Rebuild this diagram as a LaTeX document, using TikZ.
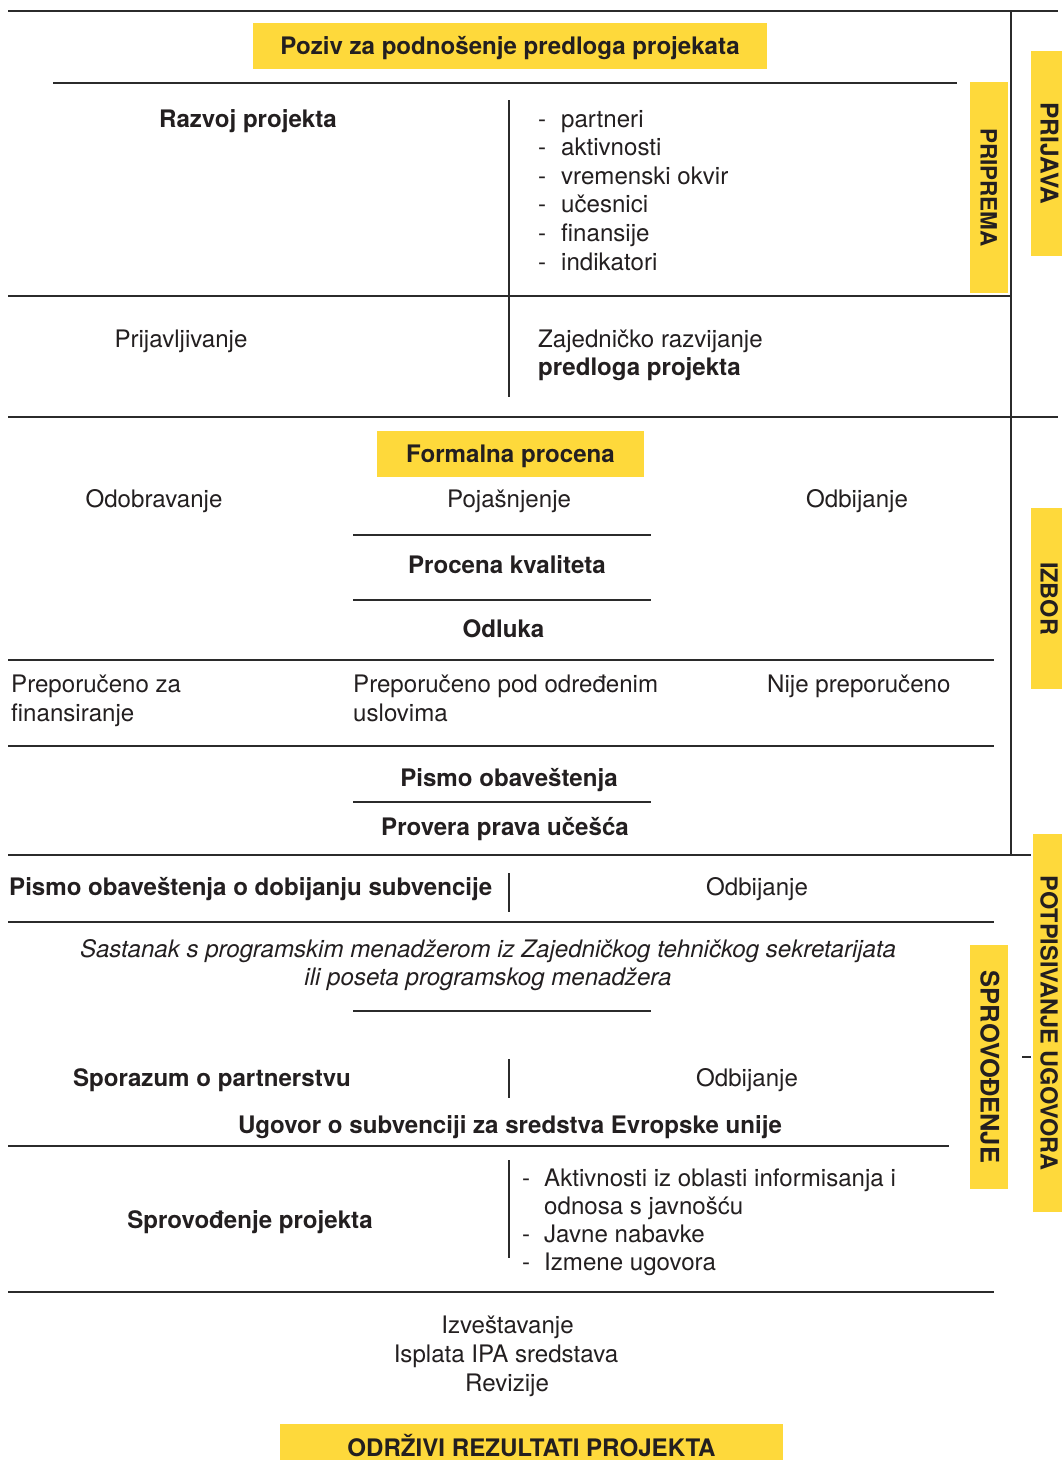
\documentclass[tikz,border=0pt]{standalone}
\usepackage{fontspec}
\setmainfont{TeX Gyre Heros}
\definecolor{ybar}{RGB}{254,217,59}
\definecolor{lineclr}{RGB}{43,43,43}
\definecolor{txtclr}{RGB}{35,31,32}
\begin{document}
\begin{tikzpicture}[x=1pt,y=-1pt,
  sep/.style={draw=lineclr, line width=2.4pt},
  txtc/.style={inner sep=0pt, anchor=base, text=txtclr, font=\fontsize{24.1}{28}\selectfont},
  txtl/.style={txtc, anchor=base west},
  bldc/.style={txtc, font=\fontsize{24.1}{28}\selectfont\bfseries},
  bldl/.style={bldc, anchor=base west},
  itc/.style={txtc, font=\fontsize{24.1}{28}\selectfont\itshape},
  ybox/.style={fill=ybar, inner sep=0pt, text=txtclr, text height=17pt, text depth=0pt, font=\fontsize{24.1}{28}\selectfont\bfseries},
  vbar/.style={ybox, rotate=-90}
]
\useasboundingbox (0,0) rectangle (1062,1460);
\fill[white] (0,0) rectangle (1062,1460);

% separator lines
\draw[sep] (8,11) -- (1058,11);
\draw[sep] (1011,11) -- (1011,855);
\draw[sep] (53,83) -- (957,83);
\draw[sep] (8,296) -- (1011,296);
\draw[sep] (509,100) -- (509,397);
\draw[sep] (8,417) -- (1058,417);
\draw[sep] (353,535) -- (651,535);
\draw[sep] (353,600) -- (651,600);
\draw[sep] (8,660) -- (994,660);
\draw[sep] (8,746) -- (994,746);
\draw[sep] (353,802) -- (651,802);
\draw[sep] (8,855) -- (1031,855);
\draw[sep] (509,873) -- (509,912);
\draw[sep] (8,922) -- (994,922);
\draw[sep] (353,1011) -- (651,1011);
\draw[sep] (509,1059) -- (509,1098);
\draw[sep] (8,1146) -- (949,1146);
\draw[sep] (509,1160) -- (509,1258);
\draw[sep] (8,1292) -- (994,1292);
\draw[sep] (1022,1057) -- (1031,1057);

% yellow boxes
\node[ybox, minimum width=514pt, minimum height=46pt] (poziv) at (510,46) {Poziv za podnošenje predloga projekata};
\node[ybox, minimum width=267pt, minimum height=46pt] (formalna) at (510.5,454) {Formalna procena};
\node[ybox, minimum width=503pt, minimum height=36pt, text height=28pt] (odrzivi) at (531.5,1442) {ODRŽIVI REZULTATI PROJEKTA};

\node[vbar, minimum width=211pt, minimum height=38pt, font=\fontsize{22.5}{27}\selectfont\bfseries] (priprema) at (989,187.5) {PRIPREMA};
\node[vbar, minimum width=205pt, minimum height=36pt, font=\fontsize{24.5}{29}\selectfont\bfseries] (prijava) at (1049,153.5) {PRIJAVA};
\node[vbar, minimum width=181pt, minimum height=36pt, font=\fontsize{23.5}{28}\selectfont\bfseries] (izbor) at (1049,598.5) {IZBOR};
\node[vbar, minimum width=378pt, minimum height=32pt, font=\fontsize{23.5}{28}\selectfont\bfseries] (potpis) at (1049,1023) {POTPISIVANJE UGOVORA};
\node[vbar, minimum width=244pt, minimum height=38pt, font=\fontsize{25.5}{30}\selectfont\bfseries] (sprovodj) at (989,1067) {SPROVOĐENJE};

% Prijava section
\node[bldc] (razvoj) at (248,127) {Razvoj projekta};
\node[txtl] (l1) at (538,127) {\makebox[23pt][l]{-}partneri};
\node[txtl] (l2) at (538,155.6) {\makebox[23pt][l]{-}aktivnosti};
\node[txtl] (l3) at (538,184.2) {\makebox[23pt][l]{-}vremenski okvir};
\node[txtl] (l4) at (538,212.8) {\makebox[23pt][l]{-}učesnici};
\node[txtl] (l5) at (538,241.4) {\makebox[23pt][l]{-}finansije};
\node[txtl] (l6) at (538,270) {\makebox[23pt][l]{-}indikatori};
\node[txtc] (prijavlj) at (181,347) {Prijavljivanje};
\node[txtl] (zajed) at (538,347) {Zajedničko razvijanje};
\node[bldl] (predloga) at (538,375) {predloga projekta};

% Izbor section
\node[txtc] (odobr) at (154,507) {Odobravanje};
\node[txtc] (pojas) at (509,507) {Pojašnjenje};
\node[txtc] (odbij1) at (857,507) {Odbijanje};
\node[bldc] (kvalitet) at (507,573) {Procena kvaliteta};
\node[bldc] (odluka) at (503.5,637) {Odluka};
\node[txtl] (prep1a) at (11,692) {Preporučeno za};
\node[txtl] (prep1b) at (11,721) {finansiranje};
\node[txtl] (prep2a) at (353,692) {Preporučeno pod određenim};
\node[txtl] (prep2b) at (353,721) {uslovima};
\node[txtl] (nije) at (767,692) {Nije preporučeno};
\node[bldc] (pismo) at (509,786) {Pismo obaveštenja};
\node[bldc] (provera) at (505,835) {Provera prava učešća};

% Potpisivanje ugovora section
\node[bldl] (pismosub) at (9,895) {Pismo obaveštenja o dobijanju subvencije};
\node[txtc] (odbij2) at (757,895) {Odbijanje};
\node[itc] (sast1) at (488,957) {Sastanak s programskim menadžerom iz Zajedničkog tehničkog sekretarijata};
\node[itc] (sast2) at (488,985) {ili poseta programskog menadžera};
\node[bldc] (sporazum) at (212,1086) {Sporazum o partnerstvu};
\node[txtc] (odbij3) at (747,1086) {Odbijanje};
\node[bldc] (ugovor) at (510,1133) {Ugovor o subvenciji za sredstva Evropske unije};

% Sprovodjenje section
\node[bldc] (sprovproj) at (250,1228) {Sprovođenje projekta};
\node[txtl] (m1) at (522,1186) {\makebox[22pt][l]{-}Aktivnosti iz oblasti informisanja i};
\node[txtl] (m1b) at (544,1214) {odnosa s javnošću};
\node[txtl] (m2) at (522,1242) {\makebox[22pt][l]{-}Javne nabavke};
\node[txtl] (m3) at (522,1270) {\makebox[22pt][l]{-}Izmene ugovora};
\node[txtc] (izvest) at (507.5,1333) {Izveštavanje};
\node[txtc] (isplata) at (506,1362) {Isplata IPA sredstava};
\node[txtc] (revizije) at (507,1391) {Revizije};
\end{tikzpicture}
\end{document}
